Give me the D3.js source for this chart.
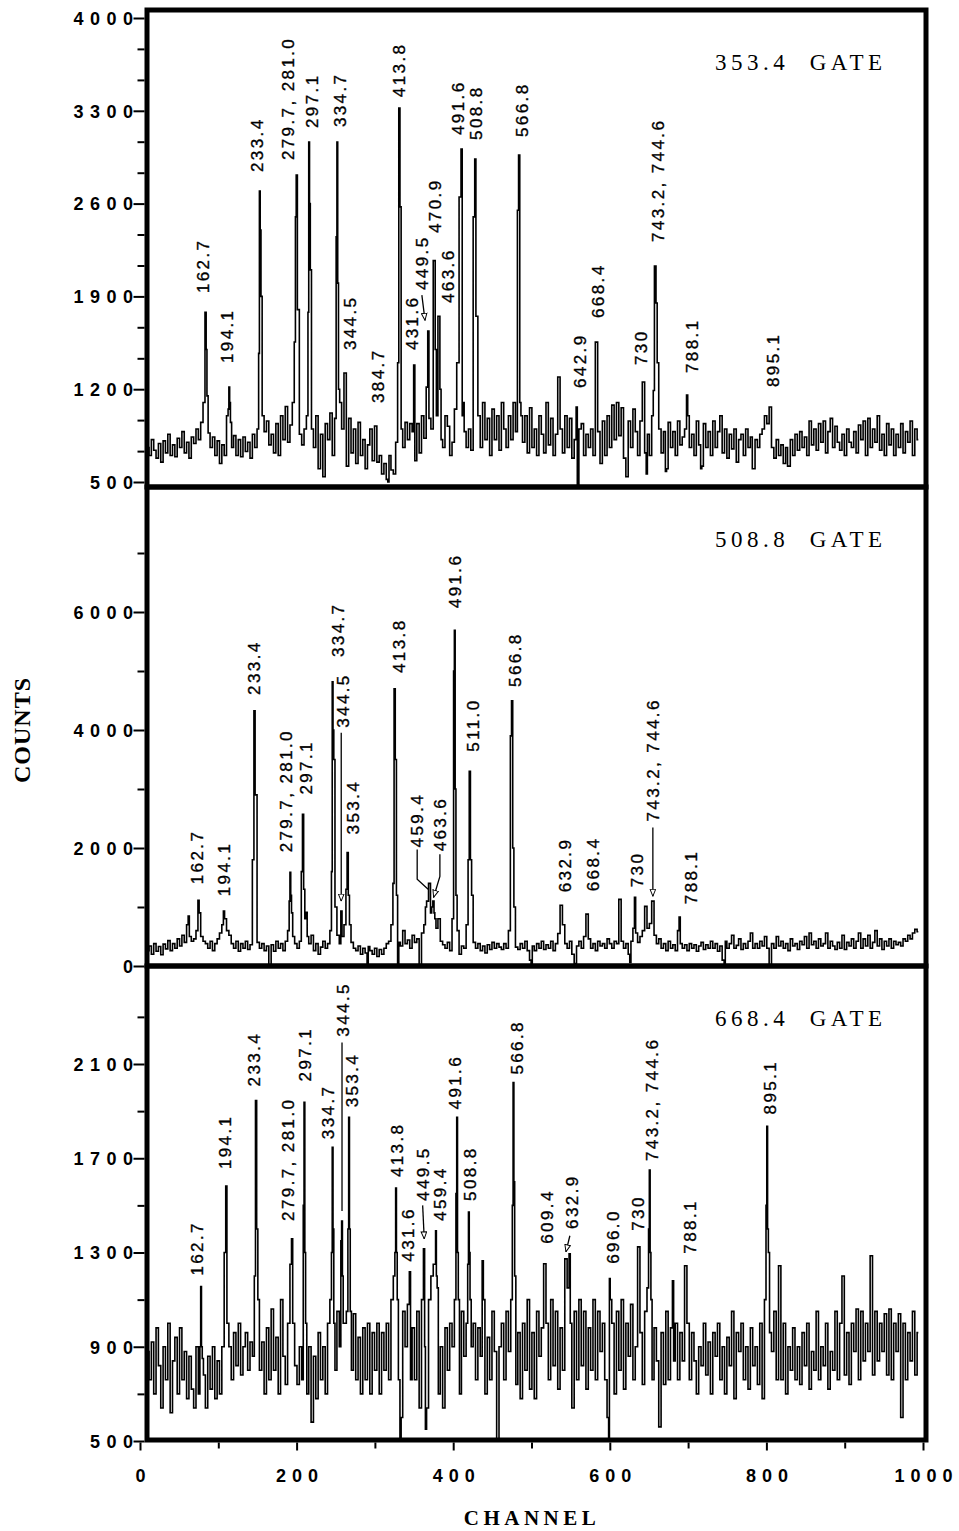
<!DOCTYPE html>
<html>
<head>
<meta charset="utf-8">
<script src="https://cdn.jsdelivr.net/npm/d3@7"></script>
<style>
  html, body { margin: 0; padding: 0; background: #fff; }
  svg { display: block; }
  .frame { fill: none; stroke: #000; stroke-width: 5; }
  .spectrum { fill: none; stroke: #000; stroke-width: 1.6; }
  .axis path.domain { display: none; }
  .axis line { stroke: #000; stroke-width: 2; }
  .axis text { font-family: "Liberation Sans", sans-serif; font-weight: bold; font-size: 18px; letter-spacing: 6.5px; fill: #000; }
  .x.axis text { letter-spacing: 6px; }
  .peak-label { font-family: "Liberation Sans", sans-serif; font-size: 17px; letter-spacing: 2.4px; fill: #000; stroke: #000; stroke-width: 0.35; }
  .gate-label { font-family: "Liberation Serif", serif; font-size: 23px; letter-spacing: 4.5px; white-space: pre; fill: #000; }
  .axis-title { font-family: "Liberation Serif", serif; font-weight: bold; fill: #000; }
  .leader { fill: none; stroke: #000; stroke-width: 1.3; }
</style>
</head>
<body>
<svg id="chart" width="959" height="1531"></svg>
<script>
// Channel axis, shared by all three spectra
const channelTicks = [0, 200, 400, 600, 800, 1000];
const channelMinorTicks = [100, 300, 500, 700, 900];

// Background counts are read every 3 channels, starting at channel 10
// (one row = 60 channels)
const bgStart = 10;
const bgStep = 3;

const gateNames = ['353.4', '508.8', '668.4'];

/* * * * *
 * 353.4 keV GATE
 * * * * */
const gate353Counts = [
  760, 700, 820, 740, 680, 790, 650, 810, 720, 860, 700, 780, 690, 830, 760, 880, 720, 800, 680, 840,
  790, 900, 820, 950, 1100, 1500, 870, 760, 840, 700, 810, 640, 780, 700, 1000, 1100, 760, 850, 700, 820,
  690, 840, 730, 800, 680, 860, 760, 900, 2400, 1000, 880, 960, 780, 860, 720, 940, 700, 1000, 820, 1070,
  800, 930, 1100, 2500, 1800, 860, 780, 900, 1000, 2600, 900, 760, 1000, 600, 860, 540, 940, 820, 1020, 700,
  980, 2000, 1100, 900, 1322, 620, 980, 720, 900, 640, 950, 700, 820, 600, 780, 900, 660, 922, 650, 700,
  560, 640, 520, 700, 590, 560, 800, 3320, 900, 760, 950, 820, 940, 880, 660, 940, 720, 1000, 830, 1216,
  980, 900, 1100, 1000, 1100, 820, 760, 1000, 920, 700, 800, 1050, 1400, 2000, 1000, 880, 760, 900, 740, 830,
  1750, 1000, 760, 1100, 820, 980, 700, 1050, 820, 1000, 740, 1100, 900, 760, 1000, 820, 1100, 880, 2966, 1000,
  800, 1000, 720, 1060, 760, 900, 700, 1000, 860, 720, 1100, 780, 980, 700, 860, 1292, 900, 720, 1000, 760,
  980, 680, 820, 480, 900, 940, 700, 860, 760, 900, 700, 1555, 880, 640, 960, 700, 1000, 760, 1080, 820,
  1100, 850, 1060, 680, 540, 960, 760, 1050, 880, 700, 960, 1254, 720, 860, 700, 1000, 2129, 1400, 900, 720,
  880, 600, 950, 760, 880, 700, 960, 780, 840, 900, 1000, 760, 860, 700, 960, 780, 620, 940, 760, 880,
  700, 960, 760, 880, 1000, 720, 900, 680, 860, 750, 900, 650, 820, 860, 700, 900, 760, 840, 600, 820,
  760, 860, 900, 1000, 940, 1066, 760, 680, 820, 700, 780, 640, 760, 620, 820, 700, 860, 740, 880, 760,
  840, 700, 960, 780, 900, 740, 940, 800, 960, 720, 880, 980, 760, 920, 800, 740, 860, 700, 900, 800,
  760, 880, 720, 930, 820, 960, 700, 980, 760, 900, 800, 1000, 740, 860, 700, 940, 780, 900, 700, 860,
  760, 940, 720, 880, 800, 960, 700, 900, 820
];
// [channel, counts] at peak tops and their shoulders
const gate353Peaks = [
  [82, 1100], [84, 1780], [86, 1150], [113, 1050], [114, 1216], [116, 950],
  [152, 1470], [153, 2695], [155, 1900], [198, 1556], [200, 2815], [202, 1800],
  [215, 1780], [216, 3064], [218, 2100], [251, 2350], [252, 3064], [254, 1200],
  [262, 1322], [301, 922], [330, 1400], [331, 3320], [333, 2575], [350, 1382],
  [367, 1216], [368, 1639], [376, 2170], [378, 1500], [382, 1750], [384, 1200],
  [409, 2650], [411, 3011], [413, 1100], [427, 2500], [428, 2936], [430, 1750],
  [483, 2550], [484, 2966], [486, 1100], [535, 1292], [558, 1066], [583, 1555],
  [643, 1254], [656, 1190], [658, 2129], [660, 1850], [699, 1156], [805, 1066]
];
// deep single-channel dips
const gate353Spikes = [[317, 500], [559, 480], [622, 540], [647, 560], [672, 580], [717, 600], [783, 600], [828, 620]];
// [text, channel, counts] at the foot of each rotated label
const gate353Labels = [
  ['162.7', 80.5, 1925], ['194.1', 111, 1397], ['233.4', 149, 2838], ['279.7, 281.0', 189, 2928],
  ['297.1', 220, 3170], ['334.7', 255, 3177], ['344.5', 268, 1495], ['384.7', 304, 1096],
  ['413.8', 330, 3403], ['431.6', 347, 1495], ['449.5', 360, 1948], ['470.9', 377, 2378],
  ['463.6', 393, 1850], ['491.6', 406, 3117], ['508.8', 429, 3080], ['566.8', 488, 3102],
  ['642.9', 562, 1209], ['668.4', 585, 1737], ['730', 640, 1382], ['743.2, 744.6', 662, 2310],
  ['788.1', 705, 1322], ['895.1', 808, 1216]
];
const gate353Arrows = [[[360, 1910], [364, 1720]]];
const gate353Ticks = [500, 1200, 1900, 2600, 3300, 4000];
const gate353MinorTicks = [733, 967, 1433, 1667, 2133, 2367, 2833, 3067, 3533, 3767];

/* * * * *
 * 508.8 keV GATE
 * * * * */
const gate508Counts = [
  260, 340, 200, 380, 250, 330, 190, 370, 290, 430, 260, 380, 300, 460, 340, 520, 400, 700, 500, 420,
  460, 600, 900, 500, 420, 380, 300, 420, 260, 380, 460, 560, 700, 800, 600, 520, 380, 300, 420, 250,
  380, 300, 420, 280, 360, 1800, 2900, 400, 300, 380, 260, 340, 0, 360, 250, 420, 300, 380, 260, 420,
  600, 1200, 500, 380, 300, 420, 2570, 800, 500, 380, 520, 260, 380, 200, 320, 420, 300, 380, 600, 4000,
  1000, 520, 380, 500, 700, 1925, 700, 400, 300, 260, 340, 200, 300, 220, 330, 260, 200, 300, 160, 280,
  200, 300, 380, 420, 700, 4700, 1200, 400, 340, 600, 380, 440, 300, 520, 400, 460, 0, 560, 700, 1100,
  1400, 1000, 900, 640, 800, 420, 360, 300, 400, 260, 800, 3000, 600, 200, 340, 300, 700, 3300, 1200, 400,
  300, 380, 260, 340, 220, 360, 280, 400, 300, 380, 320, 280, 380, 300, 600, 4493, 1000, 320, 280, 380,
  300, 420, 260, 100, 340, 260, 380, 300, 420, 280, 360, 300, 420, 260, 380, 550, 1030, 700, 380, 300,
  420, 200, 40, 340, 420, 300, 500, 880, 460, 300, 380, 260, 420, 340, 380, 300, 460, 380, 300, 420,
  380, 1130, 420, 300, 380, 200, 420, 640, 560, 400, 500, 600, 1010, 640, 720, 1100, 520, 380, 460, 300,
  380, 260, 420, 300, 360, 260, 600, 380, 300, 360, 260, 380, 300, 360, 250, 340, 400, 280, 360, 300,
  420, 300, 380, 250, 340, 100, 420, 300, 380, 520, 300, 350, 460, 280, 380, 300, 420, 560, 300, 380,
  300, 420, 340, 500, 300, 0, 380, 300, 500, 340, 420, 300, 380, 260, 460, 340, 380, 280, 420, 360,
  500, 300, 560, 360, 420, 300, 460, 340, 380, 560, 300, 420, 340, 280, 400, 300, 520, 280, 400, 340,
  460, 300, 420, 560, 300, 460, 340, 520, 300, 400, 600, 340, 460, 280, 420, 340, 460, 300, 420, 360,
  400, 340, 460, 420, 520, 460, 560, 620, 580
];
const gate508Peaks = [
  [62, 845], [75, 1115], [107, 930], [145, 1800], [146, 4324], [148, 2900],
  [191, 1100], [192, 1590], [194, 900], [207, 1600], [208, 2570], [210, 1300], [213, 910],
  [245, 1600], [246, 4815], [248, 3500], [257, 930], [264, 1300], [265, 1925], [267, 1200],
  [324, 1400], [325, 4700], [327, 3500], [365, 1000], [370, 1400], [372, 900], [375, 1100], [377, 800],
  [401, 5000], [402, 5690], [404, 1200], [420, 1800], [421, 3300], [423, 1800],
  [474, 3900], [475, 4493], [477, 2000], [538, 1030], [571, 880], [613, 1130],
  [632, 1165], [646, 1010], [655, 1100], [689, 830]
];
const gate508Spikes = [[166, 0], [291, 0], [330, 0], [358, 0], [500, 0], [556, 40], [626, 60], [747, 0], [805, 0]];
const gate508Labels = [
  ['162.7', 73, 1385], ['194.1', 107, 1182], ['233.4', 146, 4595], ['279.7, 281.0', 186, 1926],
  ['297.1', 212, 2905], ['334.7', 253, 5236], ['344.5', 259, 4037], ['353.4', 272, 2230],
  ['413.8', 330, 4966], ['459.4', 354, 2010], ['463.6', 383, 1943], ['491.6', 402, 6064],
  ['511.0', 425, 3632], ['566.8', 479, 4730], ['632.9', 543, 1250], ['668.4', 579, 1267],
  ['730', 635, 1334], ['743.2, 744.6', 655, 2449], ['788.1', 704, 1047]
];
const gate508Arrows = [
  [[257, 3953], [257, 1100]],
  [[383, 1892], [383, 1520], [375, 1165]],
  [[655, 2348], [655, 1182]]
];
const gate508Leaders = [[[354, 1976], [354, 1470], [368, 1300]]];
const gate508Ticks = [0, 2000, 4000, 6000];
const gate508MinorTicks = [1000, 3000, 5000, 7000];

/* * * * *
 * 668.4 keV GATE
 * * * * */
const gate668Counts = [
  880, 760, 920, 700, 980, 820, 640, 900, 760, 1000, 620, 840, 940, 700, 980, 760, 880, 680, 860, 720,
  640, 900, 700, 900, 780, 640, 860, 720, 900, 680, 840, 700, 900, 1300, 1000, 900, 760, 960, 820, 1000,
  780, 900, 960, 800, 920, 860, 1945, 1100, 800, 920, 700, 980, 760, 1060, 800, 940, 700, 1100, 860, 740,
  1000, 1250, 1000, 820, 740, 900, 760, 1300, 700, 900, 580, 860, 680, 960, 760, 900, 700, 1000, 1100, 1400,
  800, 1050, 900, 1200, 1000, 1050, 1400, 800, 1040, 760, 940, 700, 980, 760, 1000, 700, 960, 800, 1000, 700,
  960, 800, 1000, 760, 1100, 1200, 1300, 760, 600, 1050, 900, 1080, 760, 980, 760, 1050, 640, 1100, 900, 640,
  1100, 1200, 1250, 1200, 700, 900, 640, 980, 800, 1000, 900, 1100, 1300, 700, 1050, 860, 1000, 1300, 900, 1000,
  760, 980, 860, 1100, 700, 940, 760, 1050, 880, 500, 900, 1000, 760, 1050, 880, 1100, 1600, 740, 960, 680,
  1000, 800, 1100, 720, 960, 680, 1050, 860, 980, 1252, 1000, 760, 1100, 820, 1050, 720, 980, 800, 1273, 1150,
  1000, 640, 1050, 760, 1100, 820, 1050, 720, 980, 800, 1100, 760, 1050, 880, 1000, 760, 600, 1100, 1000, 700,
  1050, 800, 1100, 720, 1000, 860, 1080, 760, 900, 1324, 960, 740, 1050, 1150, 1300, 760, 980, 840, 560, 960,
  740, 1050, 760, 980, 840, 1000, 760, 960, 840, 1244, 1000, 760, 960, 840, 700, 900, 820, 1000, 780, 920,
  700, 960, 860, 1000, 760, 900, 700, 940, 820, 1050, 680, 960, 880, 1000, 760, 900, 720, 980, 820, 900,
  740, 1000, 680, 1100, 1400, 960, 880, 1050, 760, 1244, 760, 1000, 700, 900, 800, 980, 760, 900, 740, 960,
  820, 1000, 720, 880, 800, 1050, 760, 900, 820, 1000, 720, 880, 800, 1050, 760, 1000, 1200, 780, 960, 740,
  1000, 880, 1060, 760, 1050, 840, 1000, 880, 1286, 780, 1050, 840, 1000, 880, 1040, 780, 1060, 760, 1000, 880,
  1040, 600, 1000, 760, 960, 840, 1050, 780, 960
];
const gate668Peaks = [
  [77, 900], [78, 1155], [80, 850], [109, 1300], [110, 1582], [112, 1000],
  [147, 1200], [148, 1945], [150, 1400], [193, 1250], [194, 1358], [196, 1000],
  [209, 1500], [210, 1937], [212, 1000], [245, 1300], [246, 1747], [248, 1000],
  [257, 1350], [258, 1434], [260, 1000], [266, 1400], [267, 1874], [269, 1050],
  [326, 1300], [327, 1573], [329, 1100], [345, 1218], [363, 1316],
  [377, 1250], [378, 1392], [380, 1150], [404, 1550], [405, 1874], [407, 1100],
  [419, 1250], [420, 1472], [422, 1100], [438, 1265], [476, 1500], [477, 2021], [479, 1200],
  [517, 1252], [544, 1273], [549, 1295], [600, 1189], [637, 1324],
  [650, 1400], [651, 1650], [653, 1100], [681, 1180], [697, 1244],
  [800, 1500], [801, 1836], [803, 1300], [934, 1286]
];
const gate668Spikes = [[333, 500], [365, 550], [457, 500], [599, 500], [664, 560]];
const gate668Labels = [
  ['162.7', 73, 1202], ['194.1', 109, 1654], ['233.4', 146, 2005], ['279.7, 281.0', 189, 1434],
  ['297.1', 211, 2026], ['334.7', 240, 1781], ['344.5', 259, 2216], ['353.4', 271, 1916],
  ['413.8', 328, 1620], ['431.6', 342, 1261], ['449.5', 361, 1519], ['459.4', 383, 1434],
  ['491.6', 402, 1907], ['508.8', 421, 1519], ['566.8', 481, 2055], ['609.4', 520, 1337],
  ['632.9', 552, 1400], ['696.0', 604, 1252], ['730', 636, 1392], ['743.2, 744.6', 654, 1688],
  ['788.1', 702, 1295], ['895.1', 805, 1886]
];
const gate668Arrows = [[[361, 1500], [363, 1358]], [[549, 1371], [544, 1303]]];
const gate668Leaders = [[[258, 2191], [258, 1476]]];
const gate668Ticks = [500, 900, 1300, 1700, 2100];
const gate668MinorTicks = [700, 1100, 1500, 1900, 2300];


/* * * * *
 * SPECTRUM PANEL
 *
 * One framed gated spectrum with its counts axis, peak labels and
 * leader arrows. Only the last panel carries the channel axis.
 * * * * */
class SpectrumPanel {

  constructor(config) {
    this.config = config;
    this.xScale = config.xScale;
    this.yScale = d3.scaleLinear()
      .domain(config.yDomain)
      .range(config.yRange);

    this.g = config.svg.append('g')
      .attr('class', 'panel');

    this.initClip();
    this.drawSpectrum();
    this.drawLabels();
    this.drawLeaders();
    this.drawFrame();
    this.drawAxes();
    this.drawGateLabel();
  }


  initClip() {
    const c = this.config;
    this.clipId = `clip-${ c.gate.replace('.', '-') }`;
    this.g.append('clipPath')
      .attr('id', this.clipId)
      .append('rect')
        .attr('x', c.left)
        .attr('y', c.top)
        .attr('width', c.right - c.left)
        .attr('height', c.bottom - c.top);
  }


  // Background points every bgStep channels, with peaks and dips laid over them.
  buildSeries() {
    const points = new Map();
    this.config.counts.forEach((d, i) => { points.set(bgStart + i * bgStep, d) });
    this.config.spikes.concat(this.config.peaks).forEach(([ch, d]) => { points.set(ch, d) });
    return Array.from(points, ([ch, d]) => { return { ch: ch, counts: d } })
      .sort((a, b) => a.ch - b.ch);
  }


  drawSpectrum() {
    const line = d3.line()
      .x((d) => this.xScale(d.ch))
      .y((d) => this.yScale(d.counts))
      .curve(d3.curveStep);

    this.g.append('path')
      .attr('class', 'spectrum')
      .attr('clip-path', `url(#${ this.clipId })`)
      .attr('d', line(this.buildSeries()));
  }


  // Labels are rotated to read upward from their foot.
  drawLabels() {
    this.g.selectAll('.peak-label')
      .data(this.config.labels)
      .join('text')
        .attr('class', 'peak-label')
        .attr('transform', (d) => `translate(${ this.xScale(d[1]) },${ this.yScale(d[2]) }) rotate(-90)`)
        .attr('dy', '0.36em')
        .text((d) => d[0]);
  }


  drawLeaders() {
    const line = d3.line()
      .x((d) => this.xScale(d[0]))
      .y((d) => this.yScale(d[1]));

    this.g.selectAll('.leader.arrow')
      .data(this.config.arrows)
      .join('path')
        .attr('class', 'leader arrow')
        .attr('marker-end', 'url(#open-arrow)')
        .attr('d', line);

    this.g.selectAll('.leader.plain')
      .data(this.config.leaders)
      .join('path')
        .attr('class', 'leader plain')
        .attr('d', line);
  }


  drawFrame() {
    const c = this.config;
    this.g.append('rect')
      .attr('class', 'frame')
      .attr('x', c.left)
      .attr('y', c.top)
      .attr('width', c.right - c.left)
      .attr('height', c.bottom - c.top);
  }


  drawAxes() {
    const c = this.config;
    const axisX = c.left - 2.5;

    const yAxisEl = this.g.append('g')
      .attr('class', 'y axis')
      .attr('transform', `translate(${ axisX },0)`)
      .call(d3.axisLeft(this.yScale)
        .tickValues(c.ticks)
        .tickSize(11)
        .tickFormat(d3.format('d')));

    // letter-spacing trails the last digit, so pull the anchor right
    yAxisEl.selectAll('text')
      .attr('x', -5)
      .attr('dy', '0.35em');

    this.g.append('g')
      .attr('class', 'y axis minor')
      .attr('transform', `translate(${ axisX },0)`)
      .call(d3.axisLeft(this.yScale)
        .tickValues(c.minorTicks)
        .tickSize(7)
        .tickFormat(''));

    if (!c.showChannelAxis) return;

    const axisY = c.bottom + 2.5;
    const xAxisEl = this.g.append('g')
      .attr('class', 'x axis')
      .attr('transform', `translate(0,${ axisY })`)
      .call(d3.axisBottom(this.xScale)
        .tickValues(channelTicks)
        .tickSize(8)
        .tickPadding(19)
        .tickFormat(d3.format('d')));

    xAxisEl.selectAll('text')
      .attr('dx', 3);

    this.g.append('g')
      .attr('class', 'x axis minor')
      .attr('transform', `translate(0,${ axisY })`)
      .call(d3.axisBottom(this.xScale)
        .tickValues(channelMinorTicks)
        .tickSize(6)
        .tickFormat(''));
  }


  drawGateLabel() {
    this.g.append('text')
      .attr('class', 'gate-label')
      .attr('x', 715)
      .attr('y', this.config.top + 60)
      .text(`${ this.config.gate }  GATE`);
  }

}


const svg = d3.select('#chart');

svg.append('defs')
  .append('marker')
    .attr('id', 'open-arrow')
    .attr('viewBox', '0 0 10 10')
    .attr('refX', 10)
    .attr('refY', 5)
    .attr('markerWidth', 8)
    .attr('markerHeight', 7)
    .attr('markerUnits', 'userSpaceOnUse')
    .attr('orient', 'auto')
  .append('path')
    .attr('d', 'M0,1 L10,5 L0,9 Z')
    .attr('fill', '#fff')
    .attr('stroke', '#000')
    .attr('stroke-width', 1.4);

const xScale = d3.scaleLinear()
  .domain([0, 1000])
  .range([140, 923]);

const shared = { svg: svg, xScale: xScale, left: 147, right: 926 };

new SpectrumPanel(Object.assign({}, shared, {
  gate: gateNames[0], counts: gate353Counts, peaks: gate353Peaks, spikes: gate353Spikes,
  labels: gate353Labels, arrows: gate353Arrows, leaders: [],
  ticks: gate353Ticks, minorTicks: gate353MinorTicks,
  top: 10, bottom: 487, yDomain: [500, 4000], yRange: [482, 18]
}));

new SpectrumPanel(Object.assign({}, shared, {
  gate: gateNames[1], counts: gate508Counts, peaks: gate508Peaks, spikes: gate508Spikes,
  labels: gate508Labels, arrows: gate508Arrows, leaders: gate508Leaders,
  ticks: gate508Ticks, minorTicks: gate508MinorTicks,
  top: 487, bottom: 966, yDomain: [0, 6000], yRange: [966, 612]
}));

new SpectrumPanel(Object.assign({}, shared, {
  gate: gateNames[2], counts: gate668Counts, peaks: gate668Peaks, spikes: gate668Spikes,
  labels: gate668Labels, arrows: gate668Arrows, leaders: gate668Leaders,
  ticks: gate668Ticks, minorTicks: gate668MinorTicks,
  top: 966, bottom: 1440, yDomain: [500, 2100], yRange: [1441, 1064],
  showChannelAxis: true
}));

// Axis titles
svg.append('text')
  .attr('class', 'axis-title')
  .attr('transform', 'translate(22,730) rotate(-90)')
  .attr('text-anchor', 'middle')
  .attr('dy', '0.35em')
  .style('font-size', '24px')
  .style('letter-spacing', '1px')
  .text('COUNTS');

svg.append('text')
  .attr('class', 'axis-title')
  .attr('x', 532)
  .attr('y', 1525)
  .attr('text-anchor', 'middle')
  .style('font-size', '21px')
  .style('letter-spacing', '4.5px')
  .text('CHANNEL');
</script>
</body>
</html>
